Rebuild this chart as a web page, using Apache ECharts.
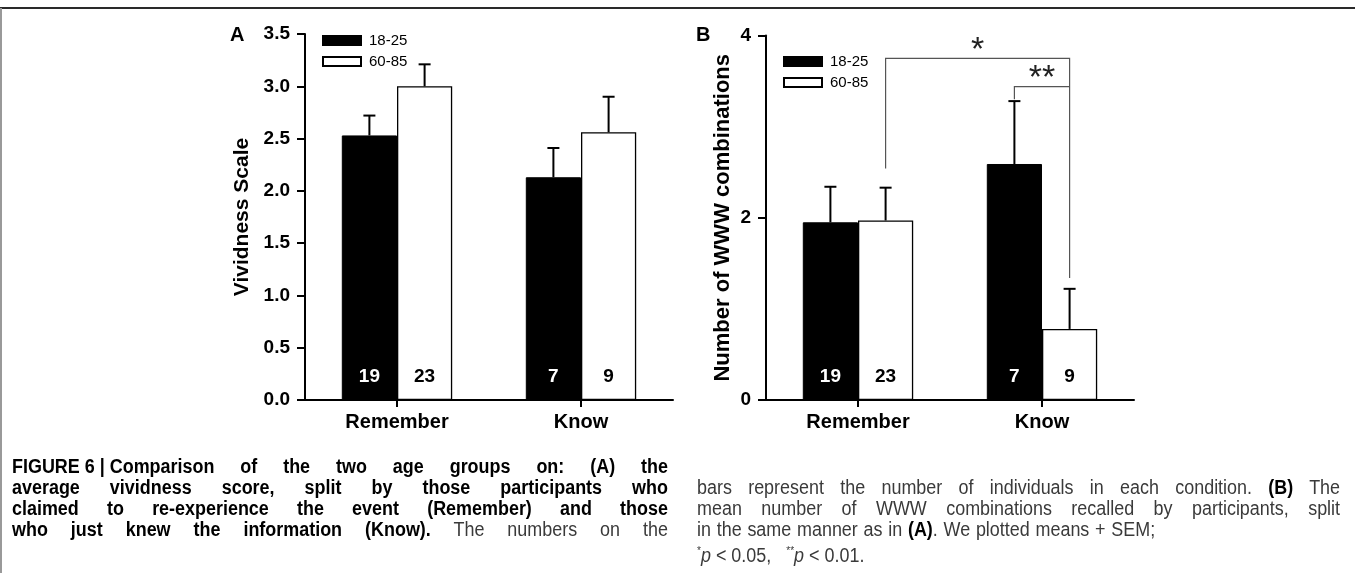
<!DOCTYPE html>
<html><head><meta charset="utf-8">
<script src="https://cdn.jsdelivr.net/npm/echarts@6/dist/echarts.min.js"></script>
<style>
html,body{margin:0;padding:0;background:#fff;}
#wrap{position:relative;width:1355px;height:573px;overflow:hidden;background:#fff;}
#chart{position:absolute;left:0;top:0;width:1355px;height:573px;}
.topline{position:absolute;left:0;top:7px;width:1355px;height:2px;background:#2a2a2a;}
.leftline{position:absolute;left:0;top:8px;width:2px;height:565px;background:#999;}
.cap{position:absolute;font-family:'Liberation Sans',Arial,sans-serif;font-size:19.5px;color:#3a3a3a;line-height:21px;}
.cap div{text-align:justify;text-align-last:justify;height:21px;white-space:normal;transform:scaleX(0.92);transform-origin:0 0;}
.cap b{color:#000;}
.cap .ib{display:inline-block;}
.cap div.nj{text-align:left;text-align-last:left;}
</style></head>
<body>
<div id="wrap">
<div id="chart"></div>
<div class="topline"></div>
<div class="leftline"></div>
<div class="cap" style="left:12px;top:456px;">
<div style="width:713px"><b><span class="ib">FIGURE 6 | Comparison</span> of the two age groups on: (A) the</b></div>
<div style="width:713px"><b>average vividness score, split by those participants who</b></div>
<div style="width:713px"><b>claimed to re-experience the event (Remember) and those</b></div>
<div style="width:713px"><b>who just knew the information (Know).</b> The numbers on the</div>
</div>
<div class="cap" style="left:697px;top:477px;">
<div style="width:699px">bars represent the number of individuals in each condition. <b>(B)</b> The</div>
<div style="width:699px">mean number of WWW combinations recalled by participants, split</div>
<div style="width:498px">in the same manner as in <b>(A)</b>. We plotted means + SEM;</div>
<div class="nj" style="width:650px"><sup style="font-size:11px">*</sup><i>p</i> &lt; 0.05,&nbsp;&nbsp; <sup style="font-size:11px">**</sup><i>p</i> &lt; 0.01.</div>
</div>
</div>
<script>
// ---------- data ----------
const categories = ['Remember', 'Know'];
const groupNames = ['18-25', '60-85'];
// Panel A: vividness
const vividYoung = [2.53, 2.13];
const vividOld = [3.00, 2.56];
const vividYoungSem = [0.19, 0.28];
const vividOldSem = [0.21, 0.34];
// Panel B: WWW combinations
const wwwYoung = [1.95, 2.59];
const wwwOld = [1.97, 0.78];
const wwwYoungSem = [0.39, 0.69];
const wwwOldSem = [0.36, 0.44];
// participant counts
const countsYoung = [19, 7];
const countsOld = [23, 9];
// significance brackets (panel B): [fromCat, fromGroup, toCat, toGroup]
const sigPairs = [[0, 1, 1, 1], [1, 0, 1, 1]];
const sigLabels = ['*', '**'];
const sigTop = [3.75, 3.44];
const sigFromBottom = [2.54, 3.30];
const sigToBottom = [1.34, 3.44];

// ---------- chart ----------
const FONT = 'Liberation Sans';
const chart = echarts.init(document.getElementById('chart'), null, {renderer: 'canvas'});

const CAT_GAP = 0.4;
function barCenter(api, cat, group) {
  const c = api.coord([cat, 0])[0];
  const bw = api.size([1, 0])[0] * (1 - CAT_GAP) / 2;
  return c + (group === 0 ? -bw / 2 : bw / 2);
}
function errRender(group) {
  return function (params, api) {
    const cat = api.value(0), m = api.value(1), s = api.value(2);
    const x = barCenter(api, cat, group);
    const y0 = api.coord([cat, m])[1];
    const y1 = api.coord([cat, m + s])[1];
    const style = {stroke: '#000', lineWidth: 2};
    return {type: 'group', children: [
      {type: 'line', shape: {x1: x, y1: y0, x2: x, y2: y1}, style: style},
      {type: 'line', shape: {x1: x - 6, y1: y1, x2: x + 6, y2: y1}, style: style}
    ]};
  };
}
function sigRender(params, api) {
  const i = params.dataIndex;
  const p = sigPairs[i];
  const x1 = barCenter(api, p[0], p[1]);
  const x2 = barCenter(api, p[2], p[3]);
  const yt = api.coord([0, sigTop[i]])[1];
  const yb1 = api.coord([0, sigFromBottom[i]])[1];
  const yb2 = api.coord([0, sigToBottom[i]])[1];
  return {type: 'group', children: [
    {type: 'polyline', shape: {points: [[x1, yb1], [x1, yt], [x2, yt], [x2, yb2]]},
     style: {stroke: '#555', lineWidth: 1.2, fill: null}},
    {type: 'text', x: (x1 + x2) / 2, y: yt + 9,
     style: {text: sigLabels[i], fontSize: 34, fontWeight: 'normal', fontFamily: FONT, fill: '#222',
             align: 'center', verticalAlign: 'bottom', letterSpacing: 4}}
  ]};
}

function makeBars(data, counts, name, gi, light) {
  return {
    type: 'bar', name: name, xAxisIndex: gi, yAxisIndex: gi, data: data,
    barGap: '0%', barCategoryGap: (CAT_GAP * 100) + '%',
    itemStyle: light ? {color: '#fff', borderColor: '#000', borderWidth: 1.3}
                     : {color: '#000', borderColor: '#000', borderWidth: 1},
    label: {show: true, position: 'insideBottom', distance: 14,
            formatter: p => String(counts[p.dataIndex]),
            color: light ? '#000' : '#fff', fontWeight: 'bold', fontSize: 19, fontFamily: FONT},
    emphasis: {disabled: true}, animation: false
  };
}
function makeErr(data, sem, gi, group) {
  return {
    type: 'custom', xAxisIndex: gi, yAxisIndex: gi, z: 5, silent: true, clip: false,
    data: data.map((m, i) => [i, m, sem[i]]),
    encode: {x: 0, y: 1}, renderItem: errRender(group), animation: false
  };
}

const axisLine = {show: true, lineStyle: {color: '#000', width: 2}};
const axisTick = {show: true, length: 8, lineStyle: {color: '#000', width: 2}};
function xAx(gi) {
  return {type: 'category', gridIndex: gi, data: categories,
    axisLine: axisLine, axisTick: {show: true, alignWithLabel: true, length: 7, lineStyle: {color: '#000', width: 2}},
    axisLabel: {fontWeight: 'bold', fontSize: 20, color: '#000', fontFamily: FONT, margin: 12},
    splitLine: {show: false}};
}
const legendCommon = {orient: 'vertical', icon: 'rect', itemWidth: 38, itemHeight: 9, itemGap: 6,
  selectedMode: false, data: groupNames,
  textStyle: {fontSize: 15, fontFamily: FONT, color: '#000', padding: [0, 0, 0, 3]}};

chart.setOption({
  animation: false,
  textStyle: {fontFamily: FONT},
  grid: [
    {left: 305, top: 34, width: 368, height: 366},
    {left: 766, top: 35.5, width: 368, height: 364.5}
  ],
  legend: [
    Object.assign({left: 317, top: 28}, legendCommon),
    Object.assign({left: 778, top: 49}, legendCommon)
  ],
  xAxis: [xAx(0), xAx(1)],
  yAxis: [
    {type: 'value', gridIndex: 0, min: 0, max: 3.5, interval: 0.5,
     axisLine: axisLine, axisTick: axisTick, splitLine: {show: false},
     axisLabel: {formatter: v => v.toFixed(1), fontWeight: 'bold', fontSize: 19, color: '#000', fontFamily: FONT, margin: 15},
     name: 'Vividness Scale', nameLocation: 'middle', nameGap: 52,
     nameTextStyle: {fontWeight: 'bold', fontSize: 21, color: '#000', fontFamily: FONT}},
    {type: 'value', gridIndex: 1, min: 0, max: 4, interval: 2,
     axisLine: axisLine, axisTick: axisTick, splitLine: {show: false},
     axisLabel: {fontWeight: 'bold', fontSize: 19, color: '#000', fontFamily: FONT, margin: 15},
     name: 'Number of WWW combinations', nameLocation: 'middle', nameGap: 32,
     nameTextStyle: {fontWeight: 'bold', fontSize: 22, color: '#000', fontFamily: FONT}}
  ],
  graphic: [
    {type: 'text', left: 230, top: 25, style: {text: 'A', fontSize: 20, fontWeight: 'bold', fontFamily: FONT, fill: '#000'}},
    {type: 'text', left: 696, top: 25, style: {text: 'B', fontSize: 20, fontWeight: 'bold', fontFamily: FONT, fill: '#000'}}
  ],
  series: [
    makeBars(vividYoung, countsYoung, groupNames[0], 0, false),
    makeBars(vividOld, countsOld, groupNames[1], 0, true),
    makeErr(vividYoung, vividYoungSem, 0, 0),
    makeErr(vividOld, vividOldSem, 0, 1),
    makeBars(wwwYoung, countsYoung, groupNames[0], 1, false),
    makeBars(wwwOld, countsOld, groupNames[1], 1, true),
    makeErr(wwwYoung, wwwYoungSem, 1, 0),
    makeErr(wwwOld, wwwOldSem, 1, 1),
    {type: 'custom', xAxisIndex: 1, yAxisIndex: 1, z: 6, silent: true, clip: false,
     data: sigPairs.map((p, i) => [p[0], sigTop[i]]), encode: {x: 0, y: 1},
     renderItem: sigRender, animation: false}
  ]
});
</script>
</body></html>
